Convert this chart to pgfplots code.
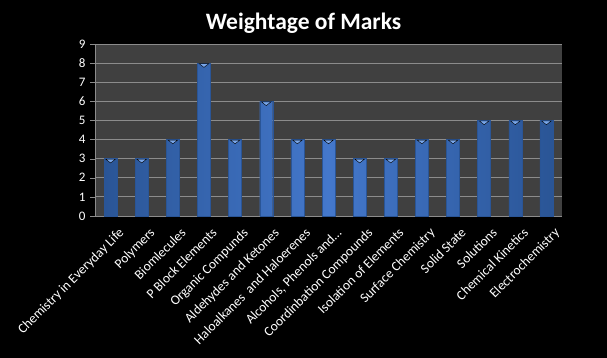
\documentclass[border=0pt]{standalone}
\usepackage{pgfplots}
\pgfplotsset{compat=1.18}
\usepackage{fontspec}
\setmainfont{Carlito}
\definecolor{plotbg}{HTML}{404040}
\definecolor{gridc}{HTML}{8C8C8C}
\definecolor{barmid}{HTML}{4478CC}
\definecolor{baredge}{HTML}{2A5596}
\definecolor{barcap}{HTML}{78A6EA}
\begin{document}
\begin{tikzpicture}[x=1pt,y=1pt]
\fill[black] (0,0) rectangle (607,358);
\node[text=white,font=\fontsize{23.5}{28}\selectfont\bfseries] at (303.5,335) {Weightage of Marks};
\begin{axis}[
  at={(95pt,142pt)}, anchor=south west,
  scale only axis, width=467pt, height=172pt,
  axis background/.style={fill=plotbg},
  xmin=-0.5, xmax=14.5, ymin=0, ymax=9,
  ytick={0,1,...,9},
  xtick={0,1,...,14},
  xticklabels={Chemistry in Everyday Life,Polymers,Biomlecules,P Block Elements,Organic Compunds,Aldehydes and Ketones,Haloalkanes\ \ and Haloerenes,{Alcohols, Phenols and\dots},Coordinbation Compounds,Isolation of Elements,Surface Chemistry,Solid State,Solutions,Chemical Kinetics,Electrochemistry},
  x tick label style={rotate=45, anchor=north east, inner sep=1pt, yshift=-8pt, xshift=2pt, font=\fontsize{13.5}{15}\selectfont},
  major x tick style={draw=none},
  extra x ticks={-0.5,0.5,...,14.5},
  extra x tick labels={},
  extra x tick style={major tick length=5pt, tick style={draw=gridc}, grid=none},
  tick align=outside,
  major tick length=5pt,
  ymajorgrids, grid style={gridc, line width=0.8pt},
  axis x line*=bottom, axis y line*=left,
  axis line style={gridc, line width=0.8pt},
  y tick style={gridc},
  ticklabel style={text=white, font=\fontsize{13}{15}\selectfont},
  /pgf/number format/assume math mode=true,
  y tick label style={xshift=-1pt},
  clip=false,
]
\addplot[ybar, bar width=13pt, draw=baredge, line width=0.4pt,
  left color=baredge, right color=baredge, middle color=barmid]
 coordinates {(0,3) (1,3) (2,4) (3,8) (4,4) (5,6) (6,4) (7,4) (8,3) (9,3) (10,4) (11,4) (12,5) (13,5) (14,5)};
\addplot[only marks, mark=triangle*, mark size=5.5pt, mark options={draw=none, fill=barcap, rotate=180, yscale=0.45, yshift=4pt}]
 coordinates {(0,3) (1,3) (2,4) (3,8) (4,4) (5,6) (6,4) (7,4) (8,3) (9,3) (10,4) (11,4) (12,5) (13,5) (14,5)};
\end{axis}
\end{tikzpicture}
\end{document}
